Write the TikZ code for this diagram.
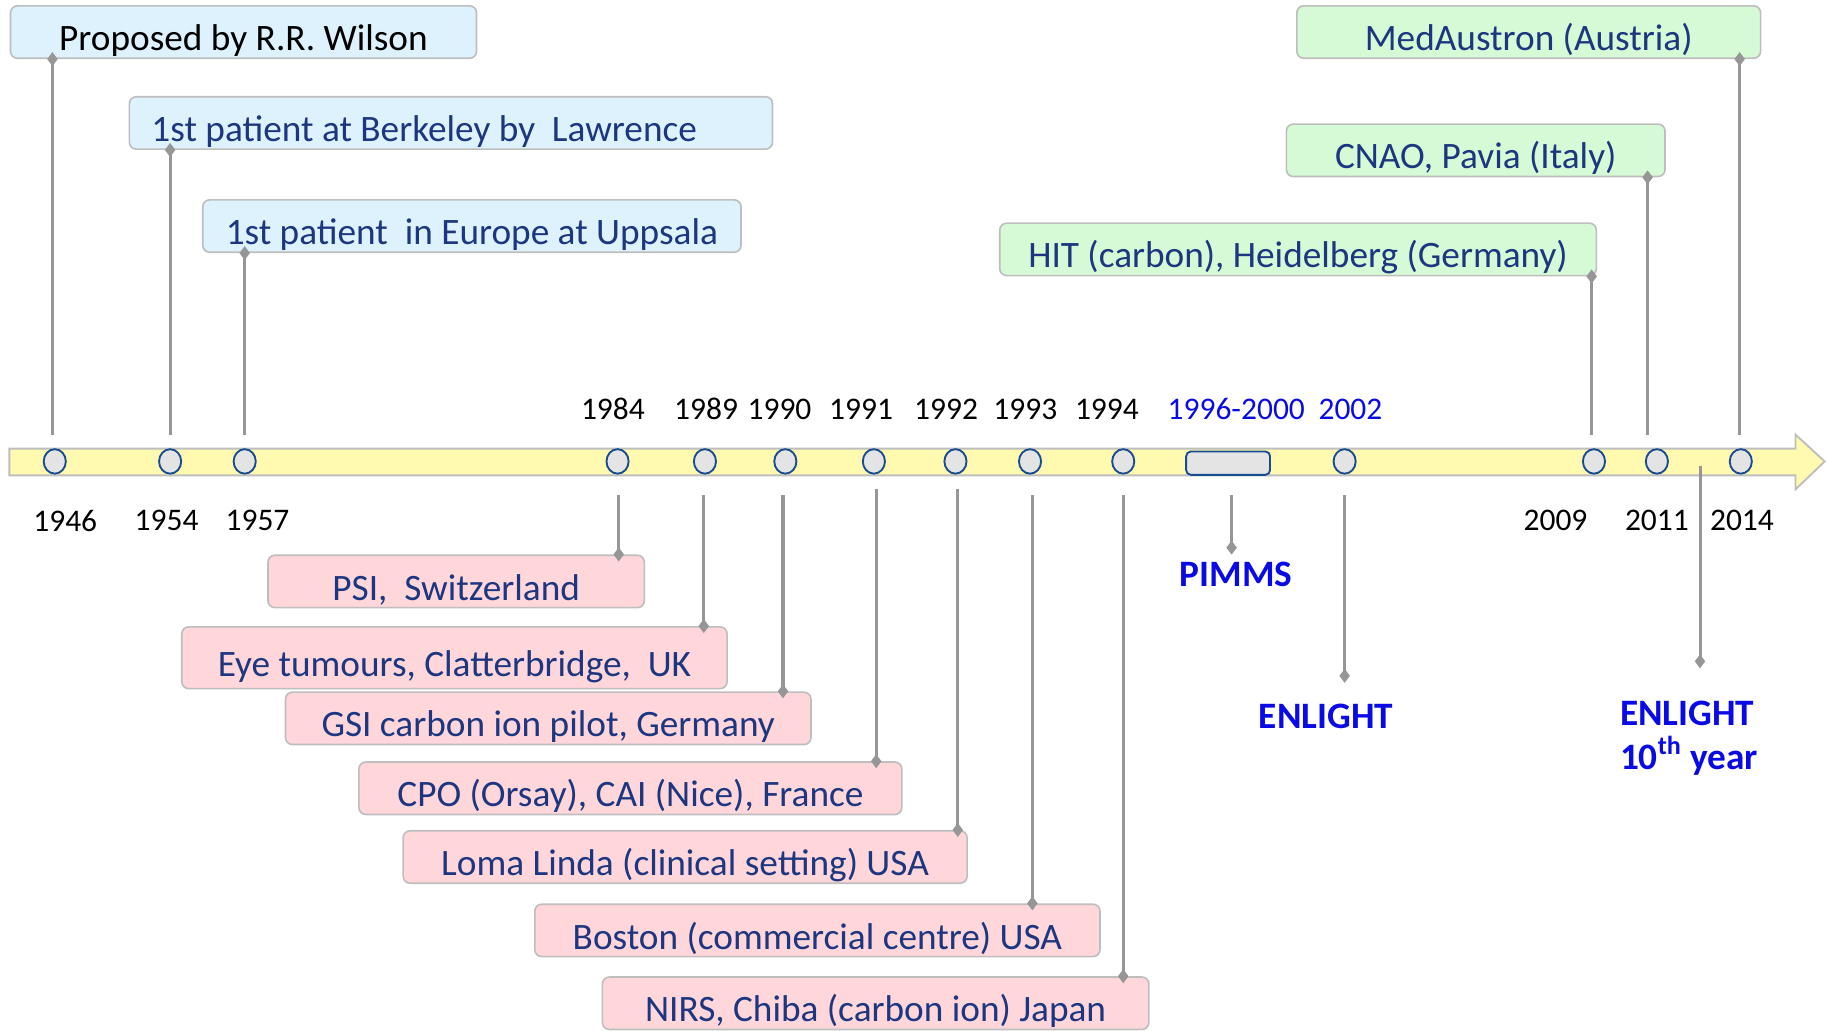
\documentclass[tikz,border=0pt]{standalone}
\usepackage{fontspec}
\setmainfont{Carlito}
\usetikzlibrary{arrows.meta,shapes.geometric}
\definecolor{navy}{RGB}{28,54,128}
\definecolor{bluefill}{RGB}{221,242,252}
\definecolor{greenfill}{RGB}{214,250,214}
\definecolor{pinkfill}{RGB}{255,214,218}
\definecolor{boxline}{RGB}{190,190,190}
\definecolor{connline}{RGB}{150,150,150}
\definecolor{barfill}{RGB}{255,250,175}
\definecolor{dotfill}{RGB}{228,228,228}
\definecolor{dotline}{RGB}{25,75,145}
\definecolor{hiblue}{RGB}{10,10,230}
\begin{document}
\begin{tikzpicture}[x=0.5pt,y=-0.5pt,
  evbox/.style={draw=boxline, line width=0.7pt, rounded corners=3pt,
    minimum height=22.5pt, inner xsep=0pt, inner ysep=0pt,
    text height=17pt, text depth=1pt,
    font=\fontsize{16pt}{19pt}\selectfont, text=navy},
  bluebox/.style={evbox, fill=bluefill},
  greenbox/.style={evbox, fill=greenfill},
  pinkbox/.style={evbox, fill=pinkfill},
  conn/.style={draw=connline, line width=1.3pt,
    -{Diamond[width=4.5pt,length=6pt]}, shorten >=-3pt},
  yeardot/.style={ellipse, draw=dotline, line width=0.8pt, fill=dotfill,
    minimum width=9.5pt, minimum height=10.5pt, inner sep=0pt},
  year/.style={font=\fontsize{13.5pt}{16pt}\selectfont, inner sep=0pt},
  hyear/.style={year, text=hiblue},
  hlabel/.style={font=\bfseries\fontsize{16pt}{18.5pt}\selectfont, text=hiblue, inner sep=0pt}
]
\useasboundingbox (0,0) rectangle (1568,884);

% timeline bar
\filldraw[fill=barfill, draw=boxline, line width=0.8pt]
  (8,385) -- (1541,385) -- (1541,373) -- (1566,396) -- (1541,420)
  -- (1541,408) -- (8,408) -- cycle;

% year markers
\foreach \n/\x in {1946/47,1954/146,1957/210,1984/530,1989/605,1990/674,
  1991/750,1992/820,1993/884,1994/964,2002/1154,2009/1368,2011/1422,2014/1494}
  \node[yeardot] (d\n) at (\x,396) {};
\node[draw=dotline, line width=0.8pt, fill=dotfill, rounded corners=2pt,
  minimum width=36pt, minimum height=10pt, inner sep=0pt] (dpimms) at (1054,397.5) {};

% year labels
\foreach \n/\x in {1984/526,1989/606,1990/669,1991/739,1992/812,1993/880,1994/950}
  \node[year] (y\n) at (\x,351) {\n};
\node[hyear] (y1996) at (1061,351) {1996-2000};
\node[hyear] (y2002) at (1159,351) {2002};
\foreach \n/\x in {1946/56,1954/143,1957/221,2009/1335,2011/1422,2014/1495}
  \node[year] (y\n) at (\x,447) {\n};

% upper boxes
\node[bluebox, minimum width=200pt, text=black] (wilson) at (209,27.5) {Proposed by R.R. Wilson};
\node[bluebox, inner xsep=9.5pt, text width=257pt, align=flush left] (berkeley) at (387,105.5) {1st patient at Berkeley by\ \ Lawrence};
\node[bluebox, minimum width=231pt] (uppsala) at (405,194) {1st patient\ \ in Europe at Uppsala};
\node[greenbox, minimum width=199pt] (medaustron) at (1312,27.5) {MedAustron (Austria)};
\node[greenbox, minimum width=162.5pt] (cnao) at (1266.5,129) {CNAO, Pavia (Italy)};
\node[greenbox, minimum width=256pt] (hit) at (1114,214) {HIT (carbon), Heidelberg (Germany)};

% lower boxes
\node[pinkbox, minimum width=161.5pt] (psi) at (391.5,499) {PSI,\ \ Switzerland};
\node[pinkbox, minimum width=234pt, minimum height=26.5pt] (eye) at (390,564.5) {Eye tumours, Clatterbridge,\ \ UK};
\node[pinkbox, minimum width=225.5pt] (gsi) at (470.5,616.5) {GSI carbon ion pilot, Germany};
\node[pinkbox, minimum width=233pt] (cpo) at (541,676.5) {CPO (Orsay), CAI (Nice), France};
\node[pinkbox, minimum width=242pt] (loma) at (588,735.5) {Loma Linda (clinical setting) USA};
\node[pinkbox, minimum width=242.5pt] (boston) at (701.5,798.5) {Boston (commercial centre) USA};
\node[pinkbox, minimum width=234.5pt] (nirs) at (751.5,861) {NIRS, Chiba (carbon ion) Japan};

% blue labels
\node[hlabel] (pimms) at (1061,493) {PIMMS};
\node[hlabel] (enlight) at (1138,615) {ENLIGHT};
\node[hlabel, align=left, anchor=west] (enlight10) at (1390,633.5) {ENLIGHT\\10\textsuperscript{th} year};

% connector free ends
\foreach \n/\x in {1946/45,1954/146,1957/210,2009/1366,2011/1414,2014/1493}
  \coordinate (t\n) at (\x,373);
\foreach \n/\x in {1984/531,1989/604,1990/672,1993/886,1994/964,pimms/1057,2002/1154}
  \coordinate (b\n) at (\x,425);
\coordinate (b1991) at (752,420);
\coordinate (b1992) at (822,420);
\coordinate (b2012) at (1459,400);

% upper connectors
\draw[conn] (t1946) -- (t1946 |- wilson.south);
\draw[conn] (t1954) -- (t1954 |- berkeley.south);
\draw[conn] (t1957) -- (t1957 |- uppsala.south);
\draw[conn] (t2009) -- (t2009 |- hit.south);
\draw[conn] (t2011) -- (t2011 |- cnao.south);
\draw[conn] (t2014) -- (t2014 |- medaustron.south);

% lower connectors
\draw[conn] (b1984) -- (b1984 |- psi.north);
\draw[conn] (b1989) -- (b1989 |- eye.north);
\draw[conn] (b1990) -- (b1990 |- gsi.north);
\draw[conn] (b1991) -- (b1991 |- cpo.north);
\draw[conn] (b1992) -- (b1992 |- loma.north);
\draw[conn] (b1993) -- (b1993 |- boston.north);
\draw[conn] (b1994) -- (b1994 |- nirs.north);
\draw[conn, shorten >=3pt] (bpimms) -- (bpimms |- pimms.north);
\draw[conn, shorten >=9pt] (b2002) -- (b2002 |- enlight.north);
\draw[conn, shorten >=14pt] (b2012) -- (b2012 |- enlight10.north);
\end{tikzpicture}
\end{document}
